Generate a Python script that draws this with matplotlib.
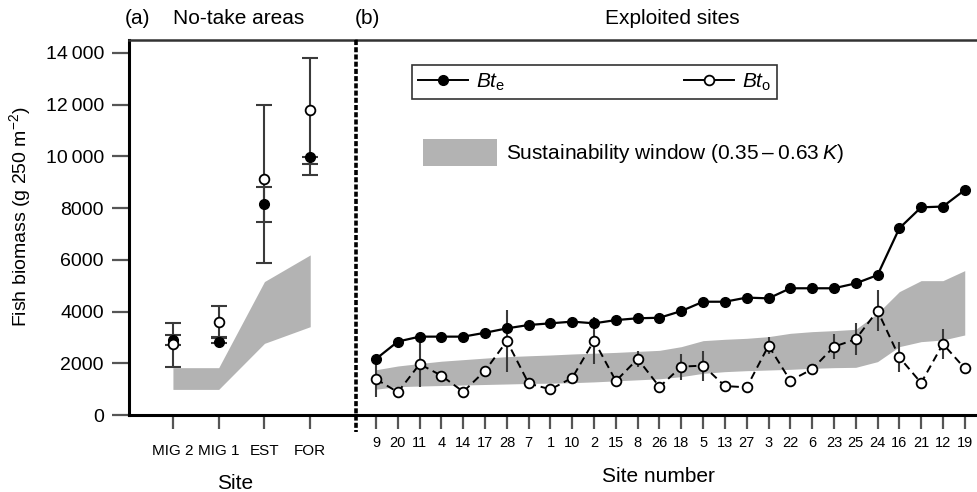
import matplotlib
matplotlib.use("Agg")
import matplotlib.pyplot as plt
import numpy as np
from matplotlib.lines import Line2D
from matplotlib.patches import Patch

plt.rcParams['font.family'] = ['Liberation Sans', 'DejaVu Sans']
plt.rcParams['mathtext.fontset'] = 'custom'
plt.rcParams['mathtext.rm'] = 'Liberation Sans'
plt.rcParams['mathtext.it'] = 'Liberation Sans:italic'

# ---------------- data ----------------
y_ticks = [0, 2000, 4000, 6000, 8000, 10000, 12000, 14000]
y_tick_labels = ["0", "2000", "4000", "6000", "8000", "10\u2009000", "12\u2009000", "14\u2009000"]

# (a) no-take areas
nt_sites = ["MIG 2", "MIG 1", "EST", "FOR"]
nt_bte = [2900, 2835, 8160, 9990]
nt_bte_lo = [2700, 2770, 7476, 9282]
nt_bte_hi = [3100, 2990, 8830, 9990]
nt_bto = [2730, 3610, 9127, 11795]
nt_bto_lo = [1870, 3000, 5867, 9707]
nt_bto_hi = [3570, 4215, 11990, 13795]
nt_win_lo = [990, 990, 2770, 3415]
nt_win_hi = [1830, 1830, 5160, 6190]

# (b) exploited sites
ex_sites = ["9", "20", "11", "4", "14", "17", "28", "7", "1", "10", "2", "15", "8", "26",
            "18", "5", "13", "27", "3", "22", "6", "23", "25", "24", "16", "21", "12", "19"]
ex_bte = [2170, 2840, 3030, 3030, 3030, 3180, 3350, 3480, 3545, 3610, 3545, 3670, 3740, 3760,
          4020, 4380, 4380, 4540, 4510, 4900, 4900, 4900, 5090, 5410, 7220, 8030, 8060, 8700]
ex_bto = [1390, 880, 1970, 1520, 900, 1710, 2860, 1220, 990, 1440, 2875, 1315, 2170, 1085,
          1870, 1910, 1120, 1070, 2680, 1330, 1770, 2640, 2930, 4035, 2230, 1240, 2750, 1805]
ex_bto_err = [680, 0, 900, 0, 0, 0, 1200, 0, 0, 0, 900, 0, 300, 0,
              500, 580, 0, 0, 320, 0, 0, 480, 610, 780, 580, 0, 580, 0]
ex_win_lo = [1000, 1096, 1120, 1140, 1160, 1180, 1199, 1220, 1230, 1250, 1280, 1320, 1360, 1400,
             1483, 1611, 1676, 1714, 1740, 1766, 1805, 1831, 1843, 2063, 2643, 2836, 2900, 3094]
ex_win_hi = [1750, 1895, 1990, 2080, 2140, 2200, 2256, 2290, 2320, 2359, 2390, 2420, 2460, 2500,
             2643, 2875, 2927, 2965, 3030, 3158, 3223, 3262, 3313, 3933, 4770, 5195, 5195, 5582]

# ---------------- figure ----------------
W, H = 978, 492
fig = plt.figure(figsize=(W / 100, H / 100), dpi=100)

def fx(px):
    return px / W

def fy(py):
    return 1 - py / H

ax_l, ax_r_, ax_b, ax_t = 129, 356, 415, 40
axA = fig.add_axes([fx(ax_l), fy(ax_b), fx(ax_r_ - ax_l), (ax_b - ax_t) / H])
axB = fig.add_axes([fx(ax_r_), fy(ax_b), fx(W - ax_r_ + 2), (ax_b - ax_t) / H])

band_col = '#b3b3b3'
err_col = '#3a3a3a'
tick_col = '#555555'

# ---- panel (a)
xa = np.arange(1, len(nt_sites) + 1)
axA.fill_between(xa, nt_win_lo, nt_win_hi, color=band_col, lw=0, zorder=1)
bte = np.array(nt_bte); bto = np.array(nt_bto)
axA.errorbar(xa, bte, yerr=[bte - np.array(nt_bte_lo), np.array(nt_bte_hi) - bte],
             fmt='none', ecolor=err_col, elinewidth=1.5, capsize=6, capthick=1.5, zorder=2)
axA.errorbar(xa, bto, yerr=[bto - np.array(nt_bto_lo), np.array(nt_bto_hi) - bto],
             fmt='none', ecolor=err_col, elinewidth=1.5, capsize=6, capthick=1.5, zorder=2)
axA.plot(xa, bte, 'o', color='black', ms=7, zorder=3)
axA.plot(xa, bto, 'o', mfc='white', mec='black', mew=1.3, ms=7, zorder=4)
axA.set_xlim(0.04, 5.0)
axA.set_ylim(0, 14500)
axA.set_yticks(y_ticks, y_tick_labels)
axA.set_xticks(xa, nt_sites)
axA.tick_params(axis='y', length=12, width=1.6, color=tick_col, pad=6, labelsize=14)
axA.tick_params(axis='x', length=10, width=1.6, color=tick_col, pad=11, labelsize=11)
axA.spines['right'].set_visible(False)
for s in ['left', 'bottom']:
    axA.spines[s].set_linewidth(2.2)
axA.spines['top'].set_linewidth(1.8)
axA.spines['top'].set_color('#333333')
axA.set_ylabel('Fish biomass (g 250 m$^{-2}$)', fontsize=14)
axA.yaxis.set_label_coords((33 - ax_l) / (ax_r_ - ax_l), (ax_b - 217) / (ax_b - ax_t))
axA.set_xlabel('Site', fontsize=15)
axA.xaxis.set_label_coords((235 - ax_l) / (ax_r_ - ax_l), (ax_b - 474) / (ax_b - ax_t))

# ---- panel (b)
xb = np.arange(len(ex_sites))
axB.fill_between(xb, ex_win_lo, ex_win_hi, color=band_col, lw=0, zorder=1)
axB.errorbar(xb, ex_bto, yerr=ex_bto_err, fmt='none', ecolor=err_col, elinewidth=1.5,
             capsize=0, zorder=2)
axB.plot(xb, ex_bte, '-o', color='black', lw=1.6, ms=7, zorder=3)
axB.plot(xb, ex_bto, '--o', color='black', lw=1.4, dashes=(4, 2.5), mfc='white', mec='black',
         mew=1.3, ms=7, zorder=4)
axB.set_xlim(-0.92, 27.7)
axB.set_ylim(0, 14500)
axB.set_yticks([])
axB.set_xticks(xb, ex_sites)
axB.tick_params(axis='x', length=10, width=1.6, color=tick_col, pad=5, labelsize=10.5)
axB.spines['right'].set_visible(False)
axB.spines['left'].set_visible(False)
axB.spines['bottom'].set_linewidth(2.2)
axB.spines['top'].set_linewidth(1.8)
axB.spines['top'].set_color('#333333')
axB.set_xlabel('Site number', fontsize=15)
axB.xaxis.set_label_coords((658 - ax_r_) / (W - ax_r_ + 2), (ax_b - 467) / (ax_b - ax_t))

# dashed divider
fig.add_artist(Line2D([fx(356), fx(356)], [fy(40), fy(432)], color='black', lw=2.6,
                      linestyle=(0, (1.4, 0.6))))

# legends
h_bte = Line2D([], [], color='black', lw=1.4, marker='o', ms=7, mfc='black')
h_bto = Line2D([], [], color='black', lw=1.4, marker='o', ms=7, mfc='white', mec='black', mew=1.3)
leg1 = fig.legend([h_bte, h_bto], [r'$Bt_{\mathrm{e}}$', r'$Bt_{\mathrm{o}}$'], ncol=2,
                  mode='expand', loc='lower left',
                  bbox_to_anchor=(fx(412), fy(99), fx(777 - 412), 37 / H),
                  borderaxespad=0, frameon=True, fancybox=False, edgecolor='black',
                  fontsize=15, handlelength=2.4, handletextpad=0.35, borderpad=0.3)
leg1.get_frame().set_linewidth(1.2)
leg2 = fig.legend([Patch(facecolor=band_col, edgecolor='none')],
                  ['Sustainability window (0.35\u2009\u2013\u20090.63\u2009$K$)'],
                  loc='center left', bbox_to_anchor=(fx(423), fy(152.5)), borderaxespad=0,
                  borderpad=0, frameon=False, fontsize=15, handlelength=3.55,
                  handleheight=1.6, handletextpad=0.42)

# titles
fig.text(fx(125), fy(19), '(a)', fontsize=15, va='center', ha='left')
fig.text(fx(239), fy(19), 'No-take areas', fontsize=15, va='center', ha='center')
fig.text(fx(355), fy(19), '(b)', fontsize=15, va='center', ha='left')
fig.text(fx(672), fy(19), 'Exploited sites', fontsize=15, va='center', ha='center')

fig.savefig('out.png', dpi=100)
